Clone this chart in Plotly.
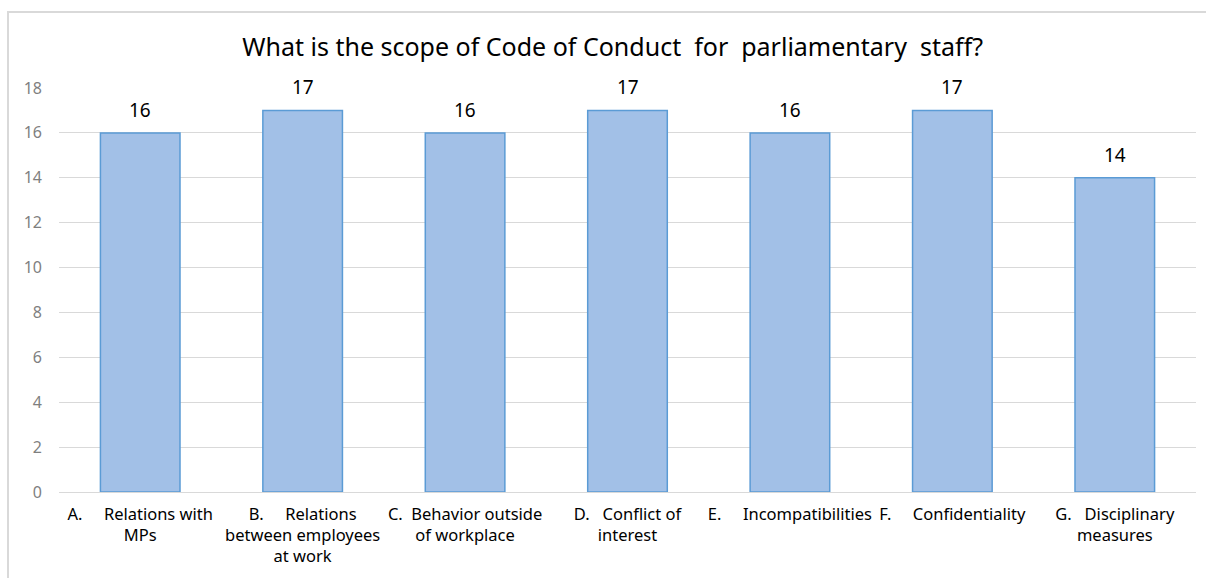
import plotly.graph_objects as go

categories = [
    "A.     Relations with<br>MPs",
    "B.     Relations<br>between employees<br>at work",
    "C.  Behavior outside<br>of workplace",
    "D.   Conflict of<br>interest",
    "E.     Incompatibilities",
    "F.     Confidentiality",
    "G.   Disciplinary<br>measures",
]
values = [16, 17, 16, 17, 16, 17, 14]
y_ticks = [0, 2, 4, 6, 8, 10, 12, 14, 16, 18]
title = "What is the scope of Code of Conduct  for  parliamentary  staff?"

W, H = 1206, 578
L, R, T, B = 59, 10, 88, 86
pw, ph = W - L - R, H - T - B
FONT = "Noto Sans, sans-serif"

fig = go.Figure(go.Bar(
    x=categories, y=values,
    width=0.49,
    marker=dict(color="#a2c0e7", line=dict(color="#5b9bd5", width=1.5)),
    cliponaxis=False,
))

annotations = [
    dict(x=c, y=v, xref="x", yref="y", text=str(v), showarrow=False,
         yanchor="bottom", yshift=8,
         font=dict(family=FONT, size=19, color="#000000"))
    for c, v in zip(categories, values)
]

fig.update_layout(
    width=W, height=H,
    margin=dict(l=L, r=R, t=T, b=B),
    paper_bgcolor="white", plot_bgcolor="white",
    title=dict(text=title, x=0.508, xanchor="center", y=1 - 47 / H, yanchor="middle",
               font=dict(family=FONT, size=25, color="#000000")),
    showlegend=False,
    bargap=0.5,
    annotations=annotations,
    xaxis=dict(showgrid=False, showline=False, ticks="",
               tickfont=dict(family=FONT, size=16.5, color="#000000"),
               tickangle=0, ticklabelstandoff=10),
    yaxis=dict(range=[0, 18], tickvals=y_ticks, showgrid=True, gridcolor="#d9d9d9",
               gridwidth=1, zeroline=True, zerolinecolor="#d9d9d9", zerolinewidth=1,
               showline=False, ticks="", ticklabelstandoff=16,
               tickfont=dict(family=FONT, size=16, color="#7f7f7f")),
    shapes=[dict(type="rect", xref="paper", yref="paper",
                 x0=(8 - L) / pw, x1=(W + 20 - L) / pw,
                 y0=-(H + 20 - T - ph) / ph, y1=(ph + T - 12) / ph,
                 line=dict(color="#d9d9d9", width=2), fillcolor="rgba(0,0,0,0)",
                 layer="below")],
)

fig.write_html("out.html")
